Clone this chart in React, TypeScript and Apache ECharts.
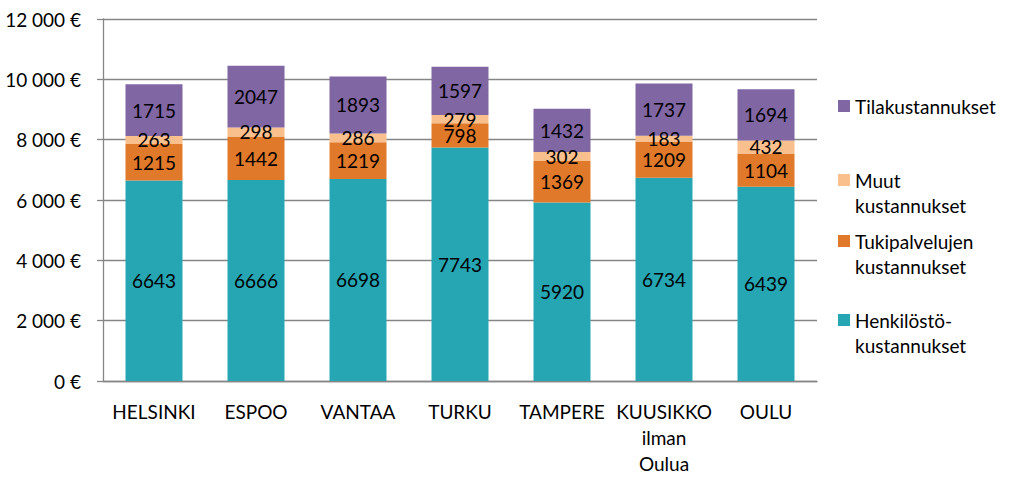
import React, { useEffect, useRef } from 'react';
import * as echarts from 'echarts';

const categories = ['HELSINKI', 'ESPOO', 'VANTAA', 'TURKU', 'TAMPERE', 'KUUSIKKO\nilman\nOulua', 'OULU'];
const henkilosto = [6643, 6666, 6698, 7743, 5920, 6734, 6439];
const tukipalvelut = [1215, 1442, 1219, 798, 1369, 1209, 1104];
const muut = [263, 298, 286, 279, 302, 183, 432];
const tilat = [1715, 2047, 1893, 1597, 1432, 1737, 1694];

const seriesNames = ['Henkilöstökustannukset', 'Tukipalvelujen kustannukset', 'Muut kustannukset', 'Tilakustannukset'];
// legend text: first line goes with the icon, second line sits under it
const legendFirst = ['Henkilöstö-', 'Tukipalvelujen', 'Muut', 'Tilakustannukset'];
const legendSecond = ['kustannukset', 'kustannukset', 'kustannukset', ''];
const colors = ['#26A6B3', '#E07A2A', '#F9BF8C', '#8066A3'];

const FONT = 'Lato, "Noto Sans", sans-serif';

const App: React.FC = () => {
  const chartRef = useRef<HTMLDivElement>(null);

  useEffect(() => {
    if (!chartRef.current) return;
    const chart = echarts.init(chartRef.current, null, { renderer: 'svg' });

    const seriesData = [henkilosto, tukipalvelut, muut, tilat];

    // vertical centre of each legend entry's first line (Henk, Tuki, Muut, Tila)
    const legendY = [320, 241, 180, 106];
    const lineH = 25;
    const textX = 855;

    const option: echarts.EChartsOption = {
      animation: false,
      color: colors,
      textStyle: { fontFamily: FONT },
      grid: { left: 103, right: 207, top: 19, bottom: 101 },
      legend: seriesNames.map((name, i) => ({
        data: [name],
        orient: 'vertical',
        left: 833,
        top: legendY[i] - lineH / 2 - 5,
        icon: 'rect',
        itemWidth: 12,
        itemHeight: 12,
        itemGap: 0,
        selectedMode: false,
        formatter: () => legendFirst[i],
        textStyle: { fontFamily: FONT, fontSize: 19, color: '#000', lineHeight: lineH },
      })),
      graphic: seriesNames
        .map((_, i) => ({
          type: 'text' as const,
          left: textX,
          top: legendY[i] + lineH / 2,
          silent: true,
          style: {
            text: legendSecond[i],
            fontFamily: FONT,
            fontSize: 19,
            fill: '#000',
            lineHeight: lineH,
          },
        }))
        .filter((g) => g.style.text !== ''),
      xAxis: {
        type: 'category',
        data: categories,
        axisLine: { lineStyle: { color: '#868686', width: 1.3 } },
        axisTick: { show: false },
        axisLabel: {
          color: '#000',
          fontSize: 19,
          fontFamily: FONT,
          lineHeight: 26,
          margin: 17,
          interval: 0,
        },
      },
      yAxis: {
        type: 'value',
        min: 0,
        max: 12000,
        interval: 2000,
        axisLine: { show: true, lineStyle: { color: '#868686', width: 1.3 } },
        axisTick: { show: true, length: 6, lineStyle: { color: '#868686', width: 1.3 } },
        splitLine: { lineStyle: { color: '#868686', width: 1.3 } },
        axisLabel: {
          color: '#000',
          fontSize: 19,
          fontFamily: FONT,
          margin: 22,
          formatter: (v: number) => `${v.toLocaleString('fi-FI').replace(/\s/g, ' ')} €`,
        },
      },
      series: seriesNames.map((name, i) => ({
        name,
        type: 'bar',
        stack: 'total',
        barWidth: 57,
        data: seriesData[i],
        itemStyle: { color: colors[i] },
        label: {
          show: true,
          position: 'inside',
          color: '#000',
          fontSize: 19,
          fontFamily: FONT,
        },
      })),
    };

    chart.setOption(option);
    return () => chart.dispose();
  }, []);

  return (
    <div
      ref={chartRef}
      style={{ position: 'absolute', left: 0, top: 0, width: 1024, height: 482, background: '#fff' }}
    />
  );
};

export default App;
